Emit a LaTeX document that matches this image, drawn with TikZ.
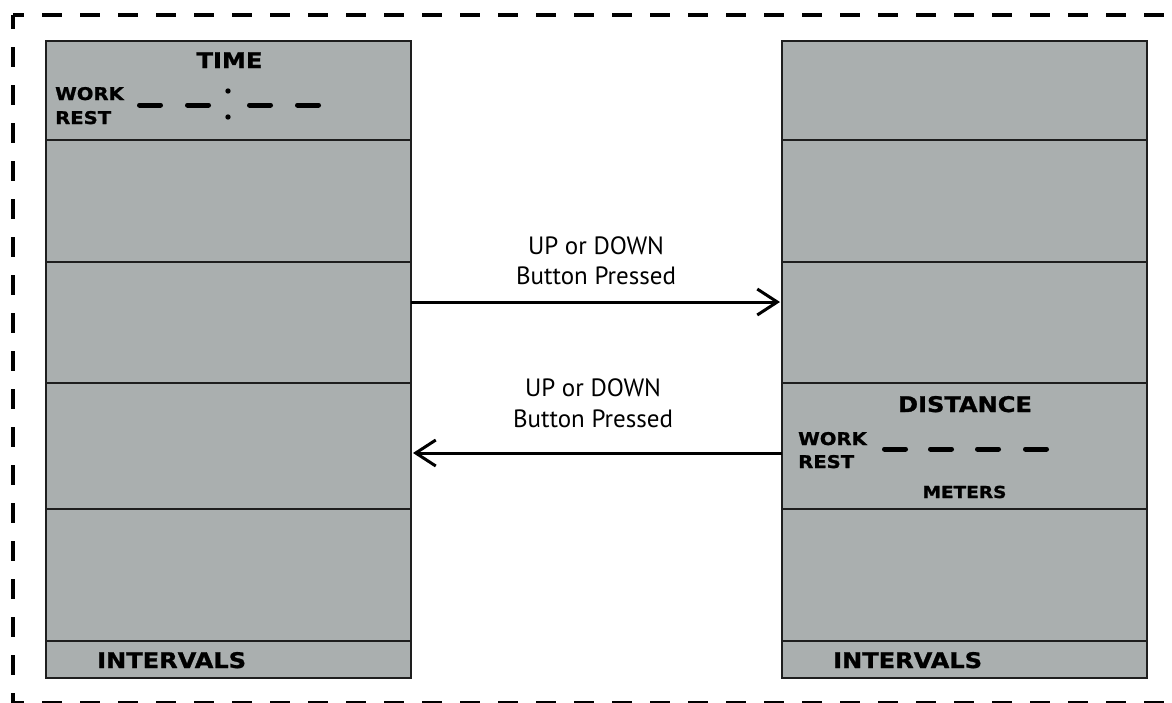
\documentclass[tikz,border=0pt]{standalone}
\usepackage{fontspec}
\usetikzlibrary{arrows.meta}
\newfontfamily\lcdfont{DejaVu Sans}[FakeStretch=1.12, FakeBold=1.2]
\newfontfamily\notefont{PT Sans}
\definecolor{lcdgray}{RGB}{170,175,175}
\definecolor{edgec}{RGB}{30,30,30}

\begin{document}
\begin{tikzpicture}[x=1pt, y=-1pt,
					panel/.style={draw=edgec, fill=lcdgray, line width=2pt, minimum width=365pt, minimum height=637pt, inner sep=0pt, outer sep=0pt},
					divider/.style={draw=edgec, line width=2pt},
					frame/.style={line width=4pt, dash pattern=on 20pt off 18pt},
					seg/.style={line width=5pt, line cap=round},
					lcd/.style={inner sep=0pt, font=\lcdfont\bfseries\fontsize{#1}{#1}\selectfont},
					note/.style={inner sep=0pt, anchor=base, font=\notefont\fontsize{25}{30}\selectfont},
					flow/.style={line width=3pt, shorten >=2pt, -{Straight Barb[length=20pt, width=26pt]}}]
					\useasboundingbox (0,0) rectangle (1172,702);
					\clip (0,0) rectangle (1172,702);
					\draw[frame, dash phase=9pt] (13,15) -- (1180,15);
					\draw[frame, dash phase=6pt] (13,15) -- (13,703);
					\draw[frame, dash phase=9pt] (13,703) -- (1180,703);
					\node[panel] (timepanel) at (228.5,359.5) {};
					\node[panel] (distpanel) at (964.5,359.5) {};
					\foreach \y in {140,262,383,509,641} {
						\draw[divider] (timepanel.west |- 0,\y) -- (timepanel.east |- 0,\y);
						\draw[divider] (distpanel.west |- 0,\y) -- (distpanel.east |- 0,\y);
					}
					\node[lcd=21.5, anchor=base] (timetitle) at (229.5,68) {TIME};
					\node[lcd=17.5, anchor=base west] (timework) at (55,100) {WORK};
					\node[lcd=17.5, anchor=base west] (timerest) at (55,124) {REST};
					\foreach \x in {137,185,247,295}
						\draw[seg] (\x+2.5,105) -- ++(21,0);
					\fill (228,91) circle (2.7pt) (228,117) circle (2.7pt);
					\node[lcd=21.5, anchor=base west] (timeint) at (97,668) {INTERVALS};
					\node[lcd=21.5, anchor=base] (disttitle) at (965,412) {DISTANCE};
					\node[lcd=17.5, anchor=base west] (distwork) at (798,445) {WORK};
					\node[lcd=17.5, anchor=base west] (distrest) at (798,468) {REST};
					\foreach \x in {882,928,975,1023}
						\draw[seg] (\x+2.5,449) -- ++(21,0);
					\node[lcd=16.5, anchor=base] (distunit) at (964.5,498) {METERS};
					\node[lcd=21.5, anchor=base west] (distint) at (833,668) {INTERVALS};
					\coordinate (upy) at (0,302);
					\coordinate (downy) at (0,453);
					\draw[flow] (timepanel.east |- upy) -- (distpanel.west |- upy);
					\draw[flow] (distpanel.west |- downy) -- (timepanel.east |- downy);
					\node[note] (uptop) at (596,254) {UP or DOWN};
					\node[note] (upbot) at (596,284) {Button Pressed};
					\node[note] (downtop) at (593,396) {UP or DOWN};
					\node[note] (downbot) at (593,427) {Button Pressed};
				\end{tikzpicture}
\end{document}
